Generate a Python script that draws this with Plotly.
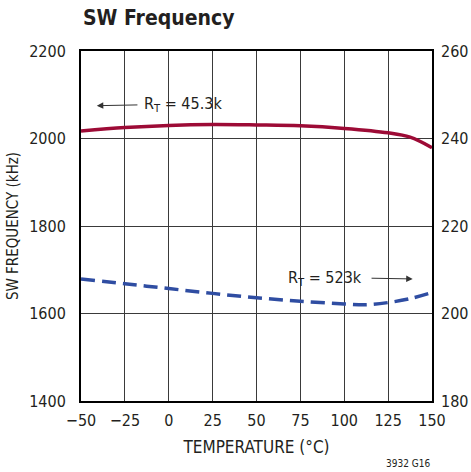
import plotly.graph_objects as go

# Data
temp_a = [-50, -25, 0, 25, 50, 75, 100, 125, 137.5, 150]
freq_a = [2017, 2025, 2030, 2032, 2031, 2029, 2023, 2013, 2003, 1979]   # RT = 45.3k (left axis, kHz)
temp_b = [-50, -25, 0, 25, 50, 75, 100, 112.5, 125, 137.5, 150]
freq_b = [1679, 1668, 1657, 1646, 1636, 1628, 1622, 1620, 1625, 1634, 1648]  # RT = 523k (left axis, kHz)

x_ticks = [-50, -25, 0, 25, 50, 75, 100, 125, 150]
y_left_ticks = [1400, 1600, 1800, 2000, 2200]
y_right_ticks = [180, 200, 220, 240, 260]

FONT = "Liberation Sans Narrow, DejaVu Sans Condensed, Arial Narrow, sans-serif"
TXT = "#231f20"
RED = "#9d0b36"
BLUE = "#2f4da2"

fig = go.Figure()
fig.add_trace(go.Scatter(x=temp_a, y=freq_a, mode="lines", line=dict(color=RED, width=3.5, shape="spline"),
                         showlegend=False, hoverinfo="skip"))
fig.add_trace(go.Scatter(x=temp_b, y=freq_b, mode="lines",
                         line=dict(color=BLUE, width=3.5, shape="spline", dash="14px,7px"),
                         showlegend=False, hoverinfo="skip"))
# invisible trace so the right axis is drawn
fig.add_trace(go.Scatter(x=[x_ticks[0]], y=[y_right_ticks[0]], yaxis="y2", mode="markers",
                         marker=dict(opacity=0), showlegend=False, hoverinfo="skip"))

fig.update_layout(
    width=471, height=472,
    margin=dict(l=81, r=39, t=51, b=71),
    paper_bgcolor="white", plot_bgcolor="white",
    font=dict(family=FONT, size=16, color=TXT),
    xaxis=dict(range=[-50, 150], tickvals=x_ticks, showgrid=True, gridcolor="#3a3a3a", gridwidth=1,
               showline=True, linecolor="black", linewidth=2, mirror=True, zeroline=False,
               ticks="", ticklabelstandoff=4, automargin=False,
               title=dict(text="TEMPERATURE (°C)", standoff=12, font=dict(size=17))),
    yaxis=dict(range=[1400, 2200], tickvals=y_left_ticks, showgrid=True, gridcolor="#3a3a3a", gridwidth=1,
               showline=True, linecolor="black", linewidth=2, mirror=True, zeroline=False,
               ticks="", ticklabelstandoff=10, automargin=False,
               title=dict(text="SW FREQUENCY (kHz)", standoff=7, font=dict(size=15))),
    yaxis2=dict(range=[180, 260], tickvals=y_right_ticks, overlaying="y", side="right", automargin=False,
                showgrid=False, zeroline=False, showline=False, ticks="", ticklabelstandoff=8),
    annotations=[
        dict(text="<b>SW Frequency</b>", xref="paper", yref="paper", x=0, y=1, xanchor="left",
             yanchor="bottom", yshift=19, showarrow=False, font=dict(size=21, color=TXT)),
        dict(text="R<sub>T</sub> = 45.3k", x=-41, y=2075, ax=-15, ay=2077, xref="x", yref="y",
             axref="x", ayref="y", xanchor="left", yanchor="middle", showarrow=True, startstandoff=5,
             arrowhead=2, arrowsize=1.3, arrowwidth=1, arrowcolor="#333", font=dict(size=16)),
        dict(text="R<sub>T</sub> = 523k", x=139, y=1679, ax=111, ay=1681, xref="x", yref="y",
             axref="x", ayref="y", xanchor="right", yanchor="middle", showarrow=True, startstandoff=8,
             arrowhead=2, arrowsize=1.3, arrowwidth=1, arrowcolor="#333", font=dict(size=16)),
        dict(text="3932 G16", xref="paper", yref="paper", x=1, y=0, xanchor="right", yanchor="middle",
             yshift=-62, showarrow=False, font=dict(size=10)),
    ],
)

fig.write_html("out.html", config={"displayModeBar": False},
               post_script="document.body.style.margin='0';document.body.style.overflow='hidden';")
